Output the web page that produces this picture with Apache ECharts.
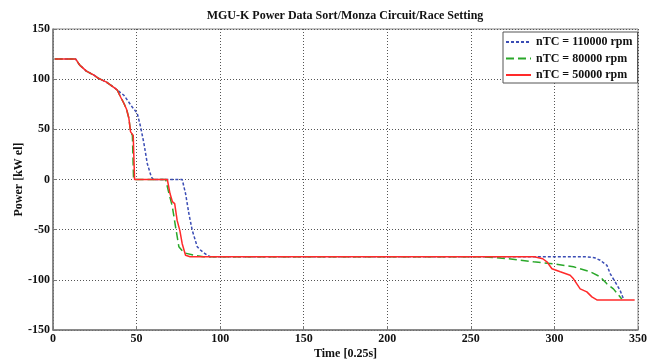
<!DOCTYPE html>
<html><head><meta charset="utf-8">
<script src="https://cdn.jsdelivr.net/npm/echarts@6/dist/echarts.min.js"></script>
<style>html,body{margin:0;padding:0;background:#fff}#c{width:647px;height:361px}</style>
</head><body><div id="c"></div>
<script>
var seriesNames = ['nTC = 110000 rpm', 'nTC = 80000 rpm', 'nTC = 50000 rpm'];
var xTicks = [0, 50, 100, 150, 200, 250, 300, 350];
var yTicks = [-150, -100, -50, 0, 50, 100, 150];

var blueT = [1, 13.6, 16, 20, 24.5, 27, 29.5, 32, 34.5, 37, 38.5, 42.4, 47.5, 50.4, 52.4, 54.4, 56.4, 58.8, 60, 77.3, 79.3, 81.3, 83.3, 86.3, 88, 91, 94, 319, 324, 327.4, 331.4, 333.4, 336.3, 339.3, 341.3];
var blueP = [120, 120, 114, 108, 104, 101, 99, 97, 94, 91, 89, 84, 72, 66, 52.5, 36, 16, 2.6, 0, 0, -14, -34, -50.6, -67, -70, -74, -77, -77, -78, -80.5, -85.5, -94, -102, -110.5, -119];

var greenT = [1, 13.6, 16, 20, 24.5, 27, 29.5, 32, 34.5, 37, 38.5, 40.5, 42.4, 44, 45.4, 46.4, 47.5, 48.2, 67.4, 69.4, 71.4, 73.3, 75.3, 78.3, 84.3, 90, 256, 271.6, 287.5, 299.5, 311.4, 321.4, 327.4, 331.4, 335.3, 340.3];
var greenP = [120, 120, 114, 108, 104, 101, 99, 97, 94, 91, 89, 82, 76, 70, 61, 47.5, 44, 0, 0, -14, -27, -47, -67, -73, -75.5, -77, -77, -78.8, -82, -84, -87, -92, -97, -104, -109, -119];

var redT = [1, 13.6, 16, 20, 24.5, 27, 29.5, 32, 34.5, 37, 38.5, 40.5, 42.4, 44, 45.4, 46.4, 48, 48.8, 68.4, 70, 71.4, 72.8, 74.3, 75.9, 77.3, 79.3, 82, 288, 293, 295.5, 298.5, 303.5, 309.4, 311.4, 315.4, 319.4, 322.4, 325.4, 348];
var redP = [120, 120, 114, 108, 104, 101, 99, 97, 94, 91, 89, 82, 76, 70, 61, 47.5, 44, 0, 0, -14, -22, -24, -41, -51, -64, -75.5, -77, -77, -79, -82, -89, -92, -95.5, -99, -109, -112, -117, -120, -120];

function zip(t, p) { return t.map(function (v, i) { return [v, p[i]]; }); }

var font = 'Liberation Serif';
var chart = echarts.init(document.getElementById('c'), null, {renderer: 'canvas'});
chart.setOption({
  animation: false,
  backgroundColor: '#fff',
  title: {
    text: 'MGU-K Power Data Sort/Monza Circuit/Race Setting',
    left: 345, top: 10, textAlign: 'center', padding: 0,
    textStyle: {fontFamily: font, fontWeight: 'bold', fontSize: 12, color: '#111'}
  },
  legend: {
    data: seriesNames, orient: 'vertical', left: 503, top: 32,
    itemWidth: 25, itemHeight: 12, itemGap: 4.5,
    padding: [4, 5, 2, 2],
    backgroundColor: '#fff', borderColor: '#555', borderWidth: 1,
    itemStyle: {opacity: 0},
    textStyle: {fontFamily: font, fontWeight: 'bold', fontSize: 12, color: '#111'}
  },
  grid: {left: 53, right: 9, top: 29, bottom: 31, show: true, borderColor: '#888', borderWidth: 1,
    outerBoundsMode: 'none', containLabel: false},
  xAxis: {
    type: 'value', min: 0, max: 350, interval: 50,
    name: 'Time [0.25s]', nameLocation: 'middle', nameGap: 18, nameMoveOverlap: false,
    nameTextStyle: {fontFamily: font, fontWeight: 'bold', fontSize: 12, color: '#111'},
    axisLine: {show: true, onZero: false, lineStyle: {color: '#777', width: 1.5}},
    axisTick: {show: true, inside: true, length: 4, lineStyle: {color: '#777'}},
    axisLabel: {margin: 3, fontFamily: font, fontWeight: 'bold', fontSize: 12, color: '#111',
      formatter: function (v) { return xTicks.indexOf(v) >= 0 ? String(v) : ''; }},
    splitLine: {show: true, lineStyle: {color: '#555', type: [1, 2], width: 1}}
  },
  yAxis: {
    type: 'value', min: -150, max: 150, interval: 50,
    name: 'Power [kW el]', nameLocation: 'middle', nameGap: 28, nameMoveOverlap: false,
    nameTextStyle: {fontFamily: font, fontWeight: 'bold', fontSize: 12, color: '#111'},
    axisLine: {show: true, onZero: false, lineStyle: {color: '#777', width: 1.5}},
    axisTick: {show: true, inside: true, length: 4, lineStyle: {color: '#777'}},
    axisLabel: {margin: 3, fontFamily: font, fontWeight: 'bold', fontSize: 12, color: '#111',
      formatter: function (v) { return yTicks.indexOf(v) >= 0 ? String(v) : ''; }},
    splitLine: {show: true, lineStyle: {color: '#555', type: [1, 2], width: 1}}
  },
  series: [
    {name: seriesNames[0], type: 'line', data: zip(blueT, blueP), symbol: 'none', z: 3,
      lineStyle: {color: '#3b4db5', width: 1.5, type: [3, 2]}, itemStyle: {color: '#3b4db5'}},
    {name: seriesNames[1], type: 'line', data: zip(greenT, greenP), symbol: 'none', z: 4,
      lineStyle: {color: '#2aa82a', width: 1.5, type: [8, 4]}, itemStyle: {color: '#2aa82a'}},
    {name: seriesNames[2], type: 'line', data: zip(redT, redP), symbol: 'none', z: 5,
      lineStyle: {color: '#ff2a2a', width: 1.5}, itemStyle: {color: '#ff2a2a'}}
  ]
});
</script></body></html>
